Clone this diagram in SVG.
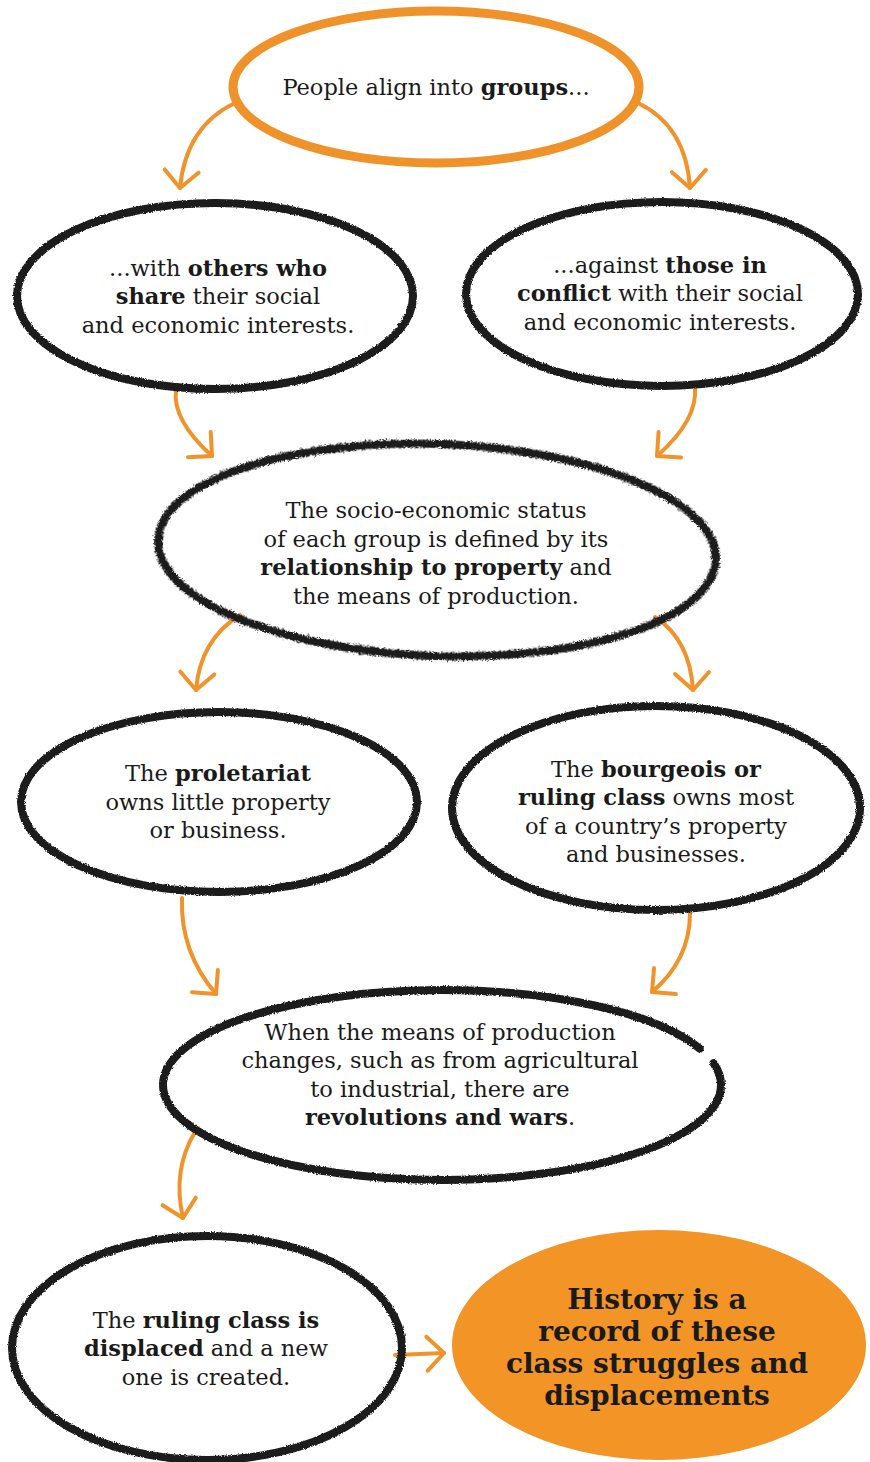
<svg xmlns="http://www.w3.org/2000/svg" width="870" height="1462" viewBox="0 0 870 1462">
<style>
.bg{fill:#ffffff}
.ring{fill:none;stroke:#1a1a1a;stroke-width:8;stroke-linecap:round}
.oring{fill:none;stroke:#f0922a;stroke-width:9}
.ofill{fill:#f29426}
.arrow{fill:none;stroke:#f0932b;stroke-width:4;stroke-linecap:round}
.t{font-family:"DejaVu Serif","Liberation Serif",serif;font-size:22.5px;fill:#1a1a1a;text-anchor:middle}
.t tspan.b{font-weight:bold}
.h{font-family:"DejaVu Serif","Liberation Serif",serif;font-size:28px;font-weight:900;fill:#1a1a1a;text-anchor:middle}
</style>
<defs>
<filter id="rough" x="-5%" y="-10%" width="110%" height="120%">
<feTurbulence type="fractalNoise" baseFrequency="0.9" numOctaves="2" seed="3" result="n"/>
<feDisplacementMap in="SourceGraphic" in2="n" scale="3" xChannelSelector="R" yChannelSelector="G"/>
</filter>
<filter id="rougher" x="-5%" y="-10%" width="110%" height="120%">
<feTurbulence type="fractalNoise" baseFrequency="1.2" numOctaves="3" seed="7" result="n"/>
<feDisplacementMap in="SourceGraphic" in2="n" scale="6" xChannelSelector="R" yChannelSelector="G"/>
</filter>
<marker id="ah" viewBox="0 0 40 40" refX="20" refY="20" markerWidth="40" markerHeight="40" markerUnits="userSpaceOnUse" orient="auto" overflow="visible">
<path d="M3,3 L20,20 L3,37" fill="none" stroke="#f0932b" stroke-width="4" stroke-linecap="round" stroke-linejoin="round"/>
</marker>
</defs>
<rect class="bg" x="0" y="0" width="870" height="1462"/>

<g id="connectors">
<path class="arrow" d="M235,103 Q186,126 180,188" marker-end="url(#ah)"/>
<path class="arrow" d="M638,103 Q686,126 690,188" marker-end="url(#ah)"/>
<path class="arrow" d="M176,390 Q172,420 212,456" marker-end="url(#ah)"/>
<path class="arrow" d="M695,387 Q698,420 657,456" marker-end="url(#ah)"/>
<path class="arrow" d="M240,615 Q200,640 196,690" marker-end="url(#ah)"/>
<path class="arrow" d="M655,617 Q690,640 693,690" marker-end="url(#ah)"/>
<path class="arrow" d="M182,898 Q180,952 216,994" marker-end="url(#ah)"/>
<path class="arrow" d="M690,913 Q690,960 652,992" marker-end="url(#ah)"/>
<path class="arrow" d="M195,1132 Q172,1170 183,1218" marker-end="url(#ah)"/>
<path class="arrow" d="M395,1355 L444,1353" marker-end="url(#ah)"/>
</g>

<g id="n1">
<ellipse class="oring" cx="436" cy="87" rx="203" ry="76"/>
<text class="t" x="436" y="95">People align into <tspan class="b">groups</tspan>...</text>
</g>

<g id="n2">
<ellipse class="ring" filter="url(#rough)" cx="215" cy="296" rx="198" ry="93"/>
<text class="t" x="218" y="276">...with <tspan class="b">others who</tspan></text>
<text class="t" x="218" y="304"><tspan class="b">share</tspan> their social</text>
<text class="t" x="218" y="333">and economic interests.</text>
</g>

<g id="n3">
<ellipse class="ring" filter="url(#rough)" cx="662" cy="294" rx="196" ry="92"/>
<text class="t" x="660" y="273">...against <tspan class="b">those in</tspan></text>
<text class="t" x="660" y="301"><tspan class="b">conflict</tspan> with their social</text>
<text class="t" x="660" y="330">and economic interests.</text>
</g>

<g id="n4">
<ellipse class="ring" filter="url(#rougher)" cx="437" cy="550" rx="279" ry="106" transform="rotate(2 437 550)"/>
<text class="t" x="436" y="518">The socio-economic status</text>
<text class="t" x="436" y="547">of each group is defined by its</text>
<text class="t" x="436" y="575"><tspan class="b">relationship to property</tspan> and</text>
<text class="t" x="436" y="604">the means of production.</text>
</g>

<g id="n5">
<ellipse class="ring" filter="url(#rough)" cx="219" cy="802" rx="198" ry="90"/>
<text class="t" x="218" y="781">The <tspan class="b">proletariat</tspan></text>
<text class="t" x="218" y="810">owns little property</text>
<text class="t" x="218" y="838">or business.</text>
</g>

<g id="n6">
<ellipse class="ring" filter="url(#rough)" cx="656" cy="808" rx="204" ry="102"/>
<text class="t" x="656" y="777">The <tspan class="b">bourgeois or</tspan></text>
<text class="t" x="656" y="805"><tspan class="b">ruling class</tspan> owns most</text>
<text class="t" x="656" y="834">of a country’s property</text>
<text class="t" x="656" y="862">and businesses.</text>
</g>

<g id="n7">
<ellipse class="ring" filter="url(#rough)" cx="442" cy="1085" rx="279" ry="95" stroke-dasharray="1203 20 200 0"/>
<text class="t" x="440" y="1040">When the means of production</text>
<text class="t" x="440" y="1068">changes, such as from agricultural</text>
<text class="t" x="440" y="1097">to industrial, there are</text>
<text class="t" x="440" y="1125"><tspan class="b">revolutions and wars</tspan>.</text>
</g>

<g id="n8">
<ellipse class="ring" filter="url(#rough)" cx="207" cy="1348" rx="195" ry="112"/>
<text class="t" x="206" y="1328">The <tspan class="b">ruling class is</tspan></text>
<text class="t" x="206" y="1356"><tspan class="b">displaced</tspan> and a new</text>
<text class="t" x="206" y="1385">one is created.</text>
</g>

<g id="n9">
<ellipse class="ofill" cx="659" cy="1345" rx="207" ry="115"/>
<text class="h" x="657" y="1309">History is a</text>
<text class="h" x="657" y="1341">record of these</text>
<text class="h" x="657" y="1373">class struggles and</text>
<text class="h" x="657" y="1405">displacements</text>
</g>
</svg>
